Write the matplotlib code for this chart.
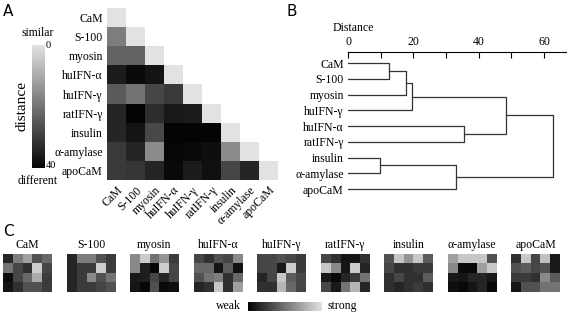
import numpy as np
import matplotlib
matplotlib.use("Agg")
import matplotlib.pyplot as plt
import matplotlib.transforms as mtransforms
from matplotlib.colors import LinearSegmentedColormap
from matplotlib.ticker import MultipleLocator

plt.rcParams["font.family"] = ["Liberation Serif", "DejaVu Serif"]

W, H = 567, 314

proteins = ["CaM", "S-100", "myosin", "huIFN-α", "huIFN-γ",
            "ratIFN-γ", "insulin", "α-amylase", "apoCaM"]

# lower triangle of the distance matrix (panel A), 0 = similar, 40 = different
dist_rows = [
    [0],
    [18, 0],
    [23, 23, 0],
    [35.5, 38.7, 37, 0],
    [24.4, 20, 28, 30, 0],
    [34, 40, 32.4, 36.4, 35.5, 0],
    [34, 37, 27.5, 40, 40, 40, 0],
    [30, 33.8, 15.5, 39.5, 38.7, 38, 15.5, 0],
    [30, 31, 33.8, 39, 35.5, 37.8, 28, 34, 0],
]

# dendrogram (panel B)
leaf_order = ["CaM", "S-100", "myosin", "huIFN-γ", "huIFN-α",
              "ratIFN-γ", "insulin", "α-amylase", "apoCaM"]
merge_pairs = [("CaM", "S-100"), ("c1", "myosin"), ("c2", "huIFN-γ"),
               ("huIFN-α", "ratIFN-γ"), ("c3", "c4"),
               ("insulin", "α-amylase"), ("c6", "apoCaM"), ("c5", "c7")]
merge_heights = [12.5, 17.7, 19.5, 35.6, 48.3, 9.8, 32.9, 62.8]

# response patterns (panel C), 4 rows x 5 columns, 0 = weak, 1 = strong
patterns = {
    "CaM": [[0.15, 0.55, 0.70, 0.35, 0.45],
            [0.50, 0.30, 0.20, 0.90, 0.30],
            [0.05, 0.30, 0.45, 0.75, 0.25],
            [0.08, 0.20, 0.35, 0.35, 0.25]],
    "S-100": [[0.15, 0.55, 0.55, 0.35, 0.25],
              [0.15, 0.25, 0.25, 0.90, 0.25],
              [0.15, 0.25, 0.60, 0.35, 0.50],
              [0.15, 0.25, 0.25, 0.30, 0.35]],
    "myosin": [[0.60, 0.90, 0.50, 0.65, 0.25],
               [0.60, 0.12, 0.02, 0.90, 0.30],
               [0.10, 0.12, 0.30, 0.15, 0.30],
               [0.08, 0.02, 0.35, 0.03, 0.05]],
    "huIFN-α": [[0.30, 0.20, 0.35, 0.30, 0.60],
                [0.45, 0.45, 0.08, 0.40, 0.06],
                [0.35, 0.50, 0.55, 0.20, 0.45],
                [0.15, 0.20, 0.88, 0.20, 0.70]],
    "huIFN-γ": [[0.30, 0.30, 0.35, 0.30, 0.25],
                [0.30, 0.30, 0.10, 0.90, 0.25],
                [0.15, 0.30, 0.88, 0.40, 0.30],
                [0.20, 0.20, 0.80, 0.45, 0.30]],
    "ratIFN-γ": [[0.30, 0.20, 0.08, 0.08, 0.20],
                 [0.88, 0.60, 0.08, 0.90, 0.15],
                 [0.10, 0.02, 0.15, 0.25, 0.50],
                 [0.30, 0.10, 0.50, 0.80, 0.15]],
    "insulin": [[0.35, 0.88, 0.65, 0.88, 0.40],
                [0.30, 0.20, 0.20, 0.25, 0.25],
                [0.20, 0.30, 0.20, 0.20, 0.40],
                [0.20, 0.15, 0.20, 0.25, 0.20]],
    "α-amylase": [[0.70, 0.88, 0.88, 0.88, 0.35],
                  [0.60, 0.03, 0.03, 0.70, 0.88],
                  [0.10, 0.08, 0.15, 0.15, 0.10],
                  [0.05, 0.02, 0.08, 0.15, 0.02]],
    "apoCaM": [[0.20, 0.88, 0.30, 0.85, 0.10],
               [0.35, 0.40, 0.30, 0.35, 0.10],
               [0.25, 0.25, 0.20, 0.60, 0.40],
               [0.08, 0.35, 0.35, 0.50, 0.50]],
}

gray = LinearSegmentedColormap.from_list("g", ["#040404", "#e2e2e2"])
gray_r = gray.reversed()


def px_axes(fig, x0, y0, x1, y1):
    return fig.add_axes([x0 / W, 1 - y1 / H, (x1 - x0) / W, (y1 - y0) / H])


fig = plt.figure(figsize=(W / 100, H / 100), dpi=100)
fs = 8.5
sans = ["DejaVu Sans"]

# ---- panel A
n = len(proteins)
mat = np.full((n, n), np.nan)
for i, row in enumerate(dist_rows):
    mat[i, :len(row)] = row
ax = px_axes(fig, 107, 8, 278, 180)
ax.imshow(np.ma.masked_invalid(mat), cmap=gray_r, vmin=0, vmax=40,
          aspect="auto", interpolation="nearest")
for s in ax.spines.values():
    s.set_visible(False)
ax.set_xticks(range(n))
ax.set_yticks(range(n))
ax.set_yticklabels(proteins, fontsize=fs)
ax.set_xticklabels(proteins, fontsize=fs, rotation=45, ha="right",
                   va="top", rotation_mode="anchor")
shift = mtransforms.ScaledTranslation(4 / 100, 0, fig.dpi_scale_trans)
for lab in ax.get_xticklabels():
    lab.set_transform(lab.get_transform() + shift)
ax.tick_params(length=0, pad=3)

cax = px_axes(fig, 32, 45, 45, 168)
sm = plt.cm.ScalarMappable(cmap=gray, norm=plt.Normalize(0, 40))
cb = fig.colorbar(sm, cax=cax)
cb.set_ticks([])
cb.outline.set_visible(False)
fig.text(46 / W, 1 - 46 / H, "0", fontsize=7.5, ha="left", va="center")
fig.text(46 / W, 1 - 166 / H, "40", fontsize=7.5, ha="left", va="center")
fig.text(38 / W, 1 - 33 / H, "similar", fontsize=fs, ha="center", va="center")
fig.text(38 / W, 1 - 181 / H, "different", fontsize=fs, ha="center", va="center")
fig.text(22 / W, 1 - 106 / H, "distance", fontsize=11, rotation=90,
         ha="center", va="center")

# ---- panel B
bx = px_axes(fig, 348, 52, 567, 197)
pos = {name: (i, 0.0) for i, name in enumerate(leaf_order)}
for k, ((a, b), h) in enumerate(zip(merge_pairs, merge_heights), start=1):
    ya, xa = pos[a]
    yb, xb = pos[b]
    bx.plot([xa, h, h, xb], [ya, ya, yb, yb], color="#333333", lw=0.9)
    pos[f"c{k}"] = ((ya + yb) / 2, h)
bx.set_xlim(0, 67)
bx.set_ylim(8.5, -0.7)
bx.xaxis.tick_top()
bx.xaxis.set_major_locator(MultipleLocator(20))
bx.xaxis.set_minor_locator(MultipleLocator(10))
bx.tick_params(axis="x", which="both", direction="in", length=4,
               width=0.8, labelsize=fs, pad=3)
bx.set_yticks(range(n))
bx.set_yticklabels(leaf_order, fontsize=fs)
bx.tick_params(axis="y", length=0, pad=3)
for side in ("left", "right", "bottom"):
    bx.spines[side].set_visible(False)
bx.spines["top"].set_linewidth(0.8)
fig.text(353 / W, 1 - 28 / H, "Distance", fontsize=fs, ha="center", va="center")

# ---- panel C
for k, name in enumerate(proteins):
    x0 = 3 + k * 63.5
    cx = px_axes(fig, x0, 254, x0 + 49, 292)
    cx.imshow(np.array(patterns[name]), cmap=gray, vmin=0, vmax=1,
              aspect="auto", interpolation="nearest")
    cx.set_axis_off()
    fig.text((x0 + 24.5) / W, 1 - 245 / H, name, fontsize=fs,
             ha="center", va="center")

wax = px_axes(fig, 248, 302, 322, 311)
wax.imshow(np.linspace(0, 1, 256)[None, :], cmap=gray, aspect="auto")
wax.set_axis_off()
fig.text(241 / W, 1 - 306 / H, "weak", fontsize=fs, ha="right", va="center")
fig.text(328 / W, 1 - 306 / H, "strong", fontsize=fs, ha="left", va="center")

# panel letters
fig.text(8 / W, 1 - 11 / H, "A", fontsize=11, family=sans, ha="center", va="center")
fig.text(292 / W, 1 - 11 / H, "B", fontsize=11, family=sans, ha="center", va="center")
fig.text(8 / W, 1 - 232 / H, "C", fontsize=11, family=sans, ha="center", va="center")

fig.savefig("out.png", dpi=100)
